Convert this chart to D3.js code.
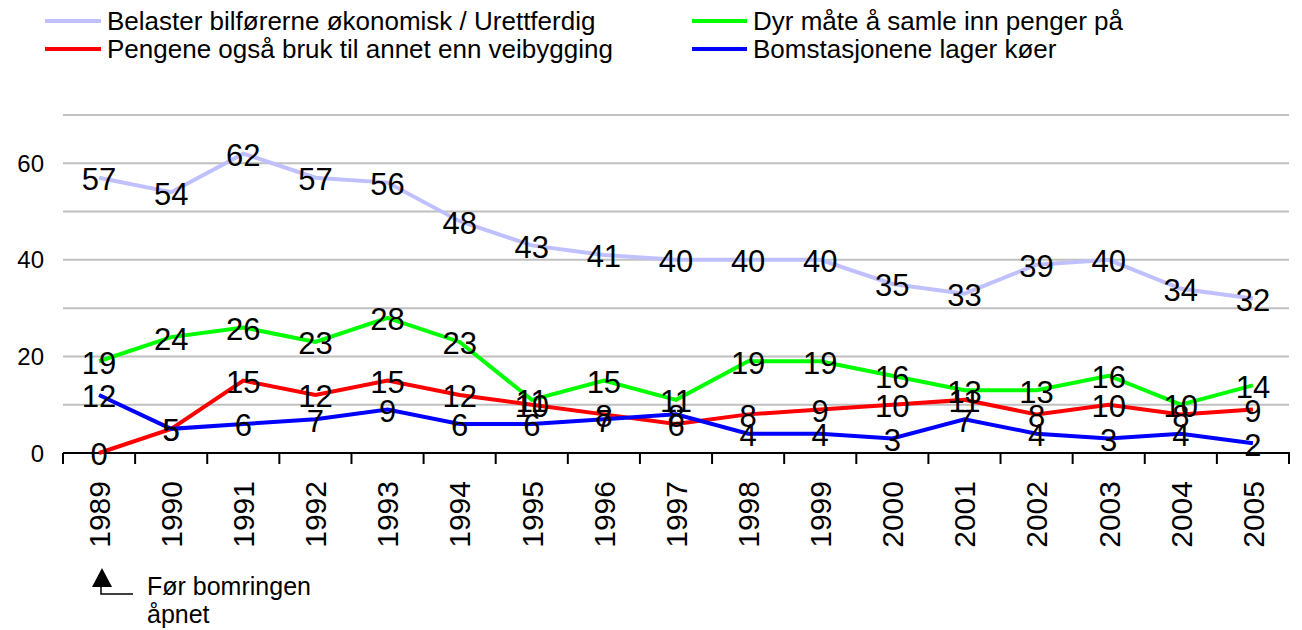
<!DOCTYPE html>
<html>
<head>
<meta charset="utf-8">
<script src="https://cdn.jsdelivr.net/npm/d3@7"></script>
<style>
  body { margin: 0; background: #fff; }
  svg { font-family: "Liberation Sans", Arial, sans-serif; }
</style>
</head>
<body>
<svg id="chart" width="1302" height="630"></svg>
<script>
var years = ["1989","1990","1991","1992","1993","1994","1995","1996","1997","1998","1999","2000","2001","2002","2003","2004","2005"];
var belaster = [57,54,62,57,56,48,43,41,40,40,40,35,33,39,40,34,32];
var dyr = [19,24,26,23,28,23,11,15,11,19,19,16,13,13,16,10,14];
var pengene = [0,5,15,12,15,12,10,8,6,8,9,10,11,8,10,8,9];
var bomstasjoner = [12,5,6,7,9,6,6,7,8,4,4,3,7,4,3,4,2];
var yTicks = [0,20,40,60];
var gridValues = [10,20,30,40,50,60,70];

var series = [
    {name: "Belaster bilførerne økonomisk / Urettferdig", values: belaster, color: "#c0c0ff"},
    {name: "Dyr måte å samle inn penger på", values: dyr, color: "#00ff00"},
    {name: "Pengene også bruk til annet enn veibygging", values: pengene, color: "#ff0000"},
    {name: "Bomstasjonene lager køer", values: bomstasjoner, color: "#0000ff"}
];

var svg = d3.select("#chart");

var x = d3.scaleBand().domain(years).range([63, 1289]);
var y = d3.scaleLinear().domain([0, 70]).range([453, 115]);

// grid
svg.selectAll(".grid")
    .data(gridValues)
    .enter().append("line")
    .attr("x1", 63).attr("x2", 1289)
    .attr("y1", function(d) { return y(d); })
    .attr("y2", function(d) { return y(d); })
    .attr("stroke", "#c0c0c0")
    .attr("stroke-width", 2);

// y labels
svg.selectAll(".ylab")
    .data(yTicks)
    .enter().append("text")
    .attr("x", 44)
    .attr("y", function(d) { return y(d); })
    .attr("dy", "0.36em")
    .attr("text-anchor", "end")
    .attr("font-size", 24)
    .text(function(d) { return d; });

// x axis
svg.append("line")
    .attr("x1", 63).attr("x2", 1290)
    .attr("y1", 453).attr("y2", 453)
    .attr("stroke", "#000").attr("stroke-width", 2);

var bounds = years.map(function(d) { return x(d); }).concat([x.range()[1]]);
svg.selectAll(".tick")
    .data(bounds)
    .enter().append("line")
    .attr("x1", function(d) { return d; })
    .attr("x2", function(d) { return d; })
    .attr("y1", 453).attr("y2", 464)
    .attr("stroke", "#000").attr("stroke-width", 2);

svg.selectAll(".xlab")
    .data(years)
    .enter().append("text")
    .attr("transform", function(d) {
        return "translate(" + (x(d) + x.bandwidth() / 2) + ",481) rotate(-90)";
    })
    .attr("dy", "0.36em")
    .attr("text-anchor", "end")
    .attr("font-size", 30)
    .text(function(d) { return d; });

// lines
var line = d3.line()
    .x(function(d, i) { return x(years[i]) + x.bandwidth() / 2; })
    .y(function(d) { return y(d); });

series.forEach(function(s) {
    svg.append("path")
        .attr("d", line(s.values))
        .attr("fill", "none")
        .attr("stroke", s.color)
        .attr("stroke-width", 4);
});

// data labels
series.forEach(function(s) {
    svg.selectAll(null)
        .data(s.values)
        .enter().append("text")
        .attr("x", function(d, i) { return x(years[i]) + x.bandwidth() / 2; })
        .attr("y", function(d) { return y(d); })
        .attr("dy", "0.4em")
        .attr("text-anchor", "middle")
        .attr("font-size", 31)
        .text(function(d) { return d; });
});

// legend
var legendPos = [[45, 21, 56], [692, 21, 55], [45, 49, 56], [692, 49, 55]];
series.forEach(function(s, i) {
    var p = legendPos[i];
    svg.append("line")
        .attr("x1", p[0]).attr("x2", p[0] + p[2])
        .attr("y1", p[1]).attr("y2", p[1])
        .attr("stroke", s.color).attr("stroke-width", 4);
    svg.append("text")
        .attr("x", p[0] + p[2] + 6)
        .attr("y", p[1])
        .attr("dy", "0.36em")
        .attr("font-size", 26)
        .text(s.name);
});

// annotation
svg.append("path")
    .attr("d", "M92,587 L102,568 L112,587 Z")
    .attr("fill", "#000");
svg.append("path")
    .attr("d", "M101,587 L101,594 L133,594")
    .attr("fill", "none")
    .attr("stroke", "#000")
    .attr("stroke-width", 1.5);
svg.append("text")
    .attr("x", 147).attr("y", 595)
    .attr("font-size", 25)
    .text("Før bomringen");
svg.append("text")
    .attr("x", 147).attr("y", 623)
    .attr("font-size", 25)
    .text("åpnet");
</script>
</body>
</html>
